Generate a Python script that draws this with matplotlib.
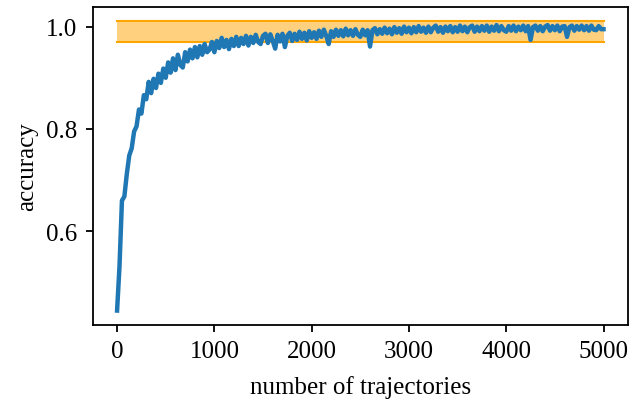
import numpy as np
import matplotlib
matplotlib.use("Agg")
import matplotlib.pyplot as plt

# number of trajectories (step 25) and accuracy
trajectories = np.arange(0, 5001, 25)
accuracy = [
    0.445, 0.532, 0.660, 0.668, 0.712, 0.748, 0.762, 0.795,
    0.805, 0.838, 0.830, 0.866, 0.858, 0.892, 0.870, 0.898,
    0.880, 0.908, 0.890, 0.918, 0.900, 0.930, 0.910, 0.938,
    0.915, 0.945, 0.925, 0.920, 0.950, 0.932, 0.955, 0.938,
    0.960, 0.940, 0.962, 0.945, 0.966, 0.950, 0.955, 0.970,
    0.950, 0.972, 0.958, 0.978, 0.960, 0.974, 0.956, 0.976,
    0.962, 0.980, 0.962, 0.978, 0.966, 0.982, 0.963, 0.980,
    0.968, 0.984, 0.970, 0.966, 0.982, 0.986, 0.968, 0.985,
    0.972, 0.957, 0.984, 0.971, 0.986, 0.960, 0.982, 0.988,
    0.972, 0.986, 0.974, 0.990, 0.976, 0.988, 0.973, 0.991,
    0.978, 0.989, 0.976, 0.992, 0.980, 0.994, 0.982, 0.966,
    0.991, 0.980, 0.994, 0.982, 0.993, 0.981, 0.996, 0.983,
    0.993, 0.982, 0.995, 0.984, 0.980, 0.994, 0.983, 0.993,
    0.961, 0.993, 0.997, 0.985, 0.995, 0.986, 0.998, 0.987,
    0.996, 0.985, 0.999, 0.988, 0.997, 0.986, 1.000, 0.989,
    0.998, 0.987, 0.999, 0.989, 1.001, 0.990, 0.998, 0.988,
    1.000, 0.989, 0.998, 1.002, 0.990, 0.999, 0.988, 1.000,
    0.991, 1.001, 0.989, 0.999, 0.990, 1.002, 0.991, 1.000,
    0.989, 0.999, 1.002, 0.990, 1.000, 0.991, 1.001, 0.992,
    1.002, 0.990, 1.000, 0.992, 1.003, 0.991, 1.001, 0.993,
    0.990, 1.001, 0.992, 1.002, 0.991, 1.000, 0.993, 1.002,
    0.991, 1.001, 0.974, 0.999, 1.002, 0.992, 1.001, 0.991,
    1.000, 1.003, 0.992, 1.001, 0.993, 1.002, 0.991, 1.000,
    1.001, 0.980, 0.999, 1.002, 0.992, 1.001, 0.994, 1.002,
    0.993, 1.001, 0.992, 1.002, 0.994, 0.993, 1.001, 0.995,
    0.995,
]

# reference band
band_x = [0, 5000]
band_low = 0.97
band_high = 1.01

plt.rcParams["font.family"] = ["Liberation Serif", "DejaVu Serif"]
plt.rcParams["font.size"] = 18

fig = plt.figure(figsize=(6.31, 4.02), dpi=100)
ax = fig.add_axes([0.147, 0.189, 0.848, 0.791])

ax.fill_between(band_x, band_low, band_high, color="orange", alpha=0.5, linewidth=0)
ax.plot(band_x, [band_low, band_low], color="orange", linewidth=1.5)
ax.plot(band_x, [band_high, band_high], color="orange", linewidth=1.5)
ax.plot(trajectories, accuracy, color="#1f77b4", linewidth=3.2)

ax.set_yticks([0.6, 0.8, 1.0])
ax.set_xticks([0, 1000, 2000, 3000, 4000, 5000])
ax.set_xlabel("number of trajectories", labelpad=9)
ax.set_ylabel("accuracy", labelpad=6)
for s in ax.spines.values():
    s.set_linewidth(1.3)
ax.tick_params(width=1.3, length=5, pad=6)

fig.savefig("out.png", dpi=100)
